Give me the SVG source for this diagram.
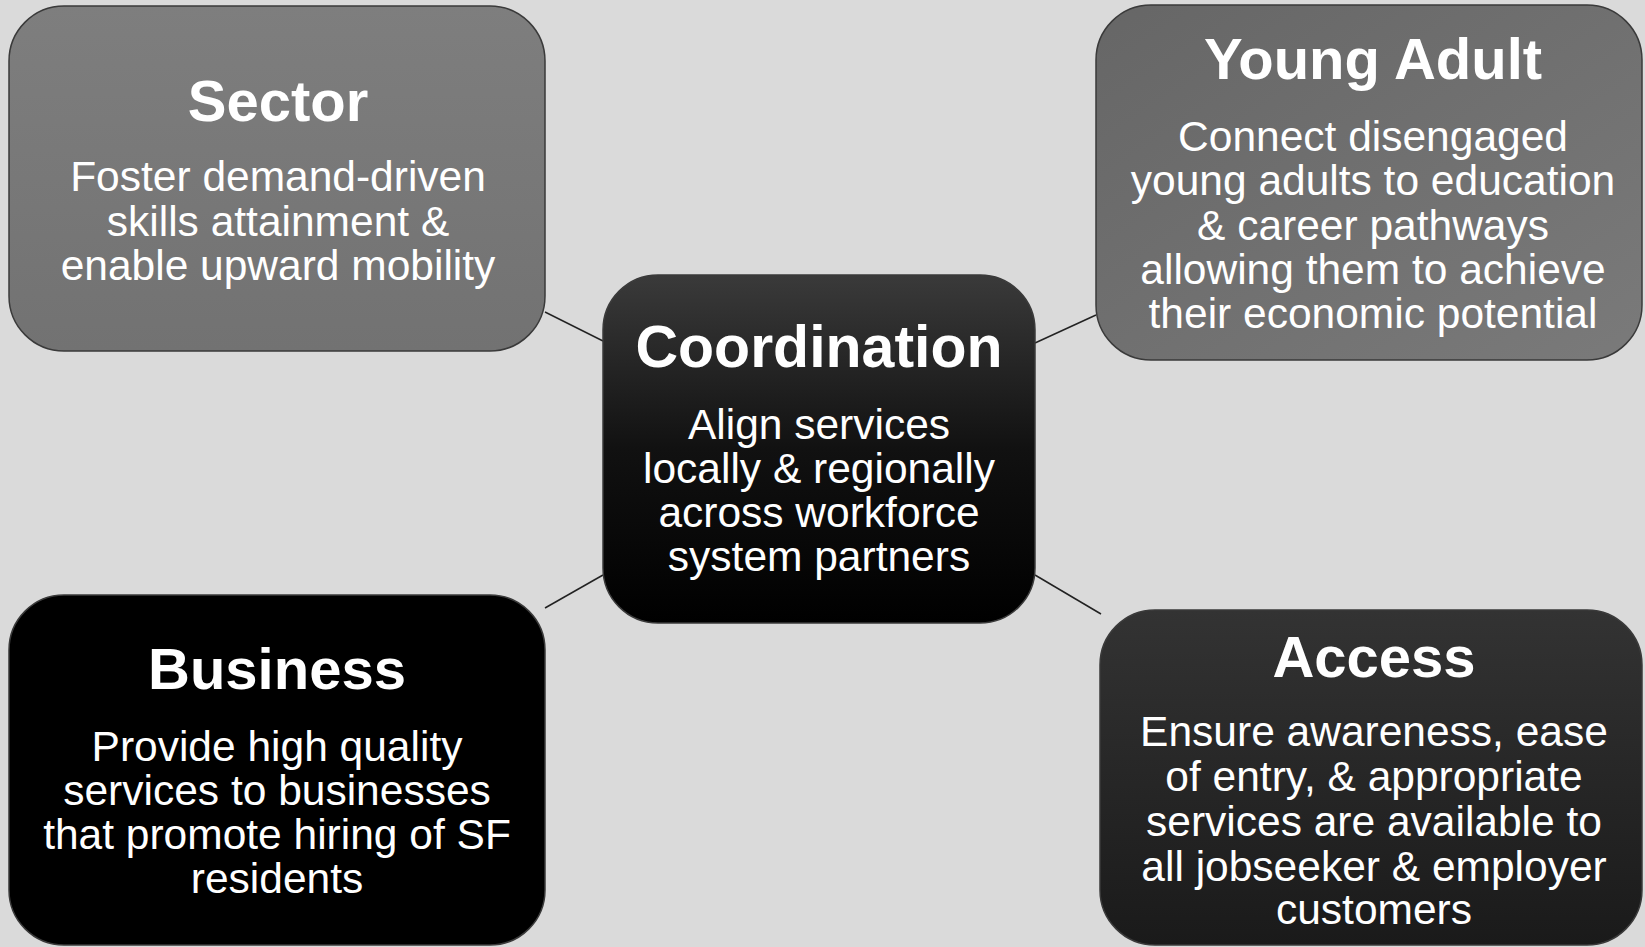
<svg xmlns="http://www.w3.org/2000/svg" width="1645" height="947" viewBox="0 0 1645 947">
<defs>
<style>
.title{font-family:"Liberation Sans",Arial,sans-serif;font-weight:bold;font-size:58px;fill:#fff;text-anchor:middle}
.body{font-family:"Liberation Sans",Arial,sans-serif;font-size:42.5px;fill:#fff;text-anchor:middle}
.conn{stroke:#222;stroke-width:1.5;fill:none}
.box{stroke:#3a3a3a;stroke-width:1.5}
</style>
<linearGradient id="gSector" x1="0" y1="0" x2="0" y2="1"><stop offset="0" stop-color="#7e7e7e"/><stop offset="1" stop-color="#727272"/></linearGradient>
<linearGradient id="gYoung" x1="0" y1="0" x2="1" y2="1"><stop offset="0" stop-color="#666"/><stop offset="1" stop-color="#7a7a7a"/></linearGradient>
<linearGradient id="gCoord" x1="0" y1="0" x2="0" y2="1"><stop offset="0" stop-color="#3a3a3a"/><stop offset="0.5" stop-color="#111"/><stop offset="1" stop-color="#000"/></linearGradient>
<linearGradient id="gAccess" x1="0" y1="0" x2="0" y2="1"><stop offset="0" stop-color="#333"/><stop offset="1" stop-color="#1a1a1a"/></linearGradient>
</defs>
<rect x="0" y="0" width="1645" height="947" fill="#dadada"/>
<g id="connectors">
<line class="conn" x1="545" y1="312" x2="603" y2="341"/>
<line class="conn" x1="1035" y1="343" x2="1096" y2="315"/>
<line class="conn" x1="545" y1="608" x2="603" y2="575"/>
<line class="conn" x1="1035" y1="575" x2="1101" y2="614"/>
</g>
<g id="sector">
<rect class="box" x="9" y="6" width="536" height="345" rx="55" fill="url(#gSector)"/>
<text class="title" x="278" y="121">Sector</text>
<text class="body" x="278" y="191">Foster demand-driven</text>
<text class="body" x="278" y="236">skills attainment &amp;</text>
<text class="body" x="278" y="280">enable upward mobility</text>
</g>
<g id="young-adult">
<rect class="box" x="1096" y="5" width="546" height="355" rx="55" fill="url(#gYoung)"/>
<text class="title" x="1373" y="79">Young Adult</text>
<text class="body" x="1373" y="151">Connect disengaged</text>
<text class="body" x="1373" y="195">young adults to education</text>
<text class="body" x="1373" y="240">&amp; career pathways</text>
<text class="body" x="1373" y="284">allowing them to achieve</text>
<text class="body" x="1373" y="328">their economic potential</text>
</g>
<g id="coordination">
<rect class="box" x="603" y="275" width="432" height="348" rx="55" fill="url(#gCoord)"/>
<text class="title" x="819" y="367" style="font-size:59px">Coordination</text>
<text class="body" x="819" y="439">Align services</text>
<text class="body" x="819" y="483">locally &amp; regionally</text>
<text class="body" x="819" y="527">across workforce</text>
<text class="body" x="819" y="571">system partners</text>
</g>
<g id="business">
<rect class="box" x="9" y="595" width="536" height="350" rx="55" fill="#000"/>
<text class="title" x="277" y="689">Business</text>
<text class="body" x="277" y="761">Provide high quality</text>
<text class="body" x="277" y="805">services to businesses</text>
<text class="body" x="277" y="849">that promote hiring of SF</text>
<text class="body" x="277" y="893">residents</text>
</g>
<g id="access">
<rect class="box" x="1100" y="610" width="542" height="335" rx="55" fill="url(#gAccess)"/>
<text class="title" x="1374" y="677">Access</text>
<text class="body" x="1374" y="746">Ensure awareness, ease</text>
<text class="body" x="1374" y="791">of entry, &amp; appropriate</text>
<text class="body" x="1374" y="836">services are available to</text>
<text class="body" x="1374" y="881">all jobseeker &amp; employer</text>
<text class="body" x="1374" y="924">customers</text>
</g>
</svg>
